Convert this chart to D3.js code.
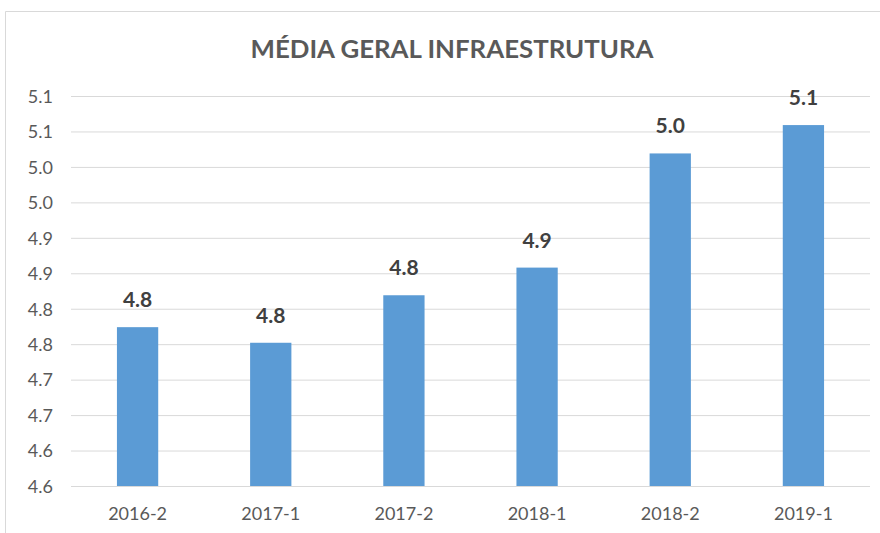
<!DOCTYPE html>
<html>
<head>
<meta charset="utf-8">
<script src="https://cdn.jsdelivr.net/npm/d3@7"></script>
<style>
  html, body { margin: 0; padding: 0; background: #fff; }
  svg { display: block; }
</style>
</head>
<body>
<svg id="chart" width="880" height="533"></svg>
<script>
const title = "MÉDIA GERAL INFRAESTRUTURA";
const categories = ["2016-2", "2017-1", "2017-2", "2018-1", "2018-2", "2019-1"];
const values = [4.774, 4.752, 4.819, 4.858, 5.019, 5.059];
const valueLabels = ["4.8", "4.8", "4.8", "4.9", "5.0", "5.1"];
const tickValues = [4.55, 4.60, 4.65, 4.70, 4.75, 4.80, 4.85, 4.90, 4.95, 5.00, 5.05, 5.10];
const tickLabels = ["4.6", "4.6", "4.7", "4.7", "4.8", "4.8", "4.9", "4.9", "5.0", "5.0", "5.1", "5.1"];

const svg = d3.select("#chart");
const font = "Lato, 'Open Sans', 'Liberation Sans', sans-serif";
const W = 880, H = 533;

// chart border
svg.append("path")
  .attr("d", `M5.5,${H} L5.5,11.5 L${W},11.5`)
  .attr("fill", "none").attr("stroke", "#d9d9d9").attr("stroke-width", 1);

const x = d3.scaleBand().domain(categories).range([71, 870]).paddingInner(0.69).paddingOuter(0.345);
const y = d3.scaleLinear().domain([4.55, 5.10]).range([486, 96]);

// gridlines + y labels
const gAxis = svg.append("g").attr("transform", "translate(71,0)")
  .call(d3.axisLeft(y).tickValues(tickValues).tickSize(-799)
        .tickFormat((d, i) => tickLabels[i]));
gAxis.select(".domain").remove();
gAxis.selectAll(".tick line").attr("stroke", "#d9d9d9").attr("stroke-width", 1);
gAxis.selectAll(".tick text")
  .attr("x", -18).attr("dy", "0.35em")
  .attr("fill", "#595959").attr("font-size", 18).attr("font-family", font);

// bars
svg.append("g").selectAll("rect").data(values).join("rect")
  .attr("x", (d, i) => x(categories[i]))
  .attr("width", x.bandwidth())
  .attr("y", d => y(d))
  .attr("height", d => y(4.55) - y(d))
  .attr("fill", "#5b9bd5");

// value labels
svg.append("g").selectAll("text").data(values).join("text")
  .attr("x", (d, i) => x(categories[i]) + x.bandwidth() / 2)
  .attr("y", d => y(d) - 20)
  .attr("text-anchor", "middle")
  .attr("font-family", font).attr("font-weight", "bold").attr("font-size", 21)
  .attr("fill", "#404040")
  .text((d, i) => valueLabels[i]);

// x axis labels
const gx = svg.append("g").attr("transform", "translate(0,486)")
  .call(d3.axisBottom(x).tickSize(0).tickPadding(0));
gx.select(".domain").remove();
gx.selectAll(".tick text")
  .attr("y", 34).attr("dy", 0)
  .attr("fill", "#595959").attr("font-size", 18).attr("font-family", font);

// title
svg.append("text")
  .attr("x", 452).attr("y", 58)
  .attr("text-anchor", "middle")
  .attr("font-family", font).attr("font-weight", "bold").attr("font-size", 24)
  .attr("textLength", 403).attr("lengthAdjust", "spacingAndGlyphs")
  .attr("fill", "#595959")
  .text(title);
</script>
</body>
</html>
